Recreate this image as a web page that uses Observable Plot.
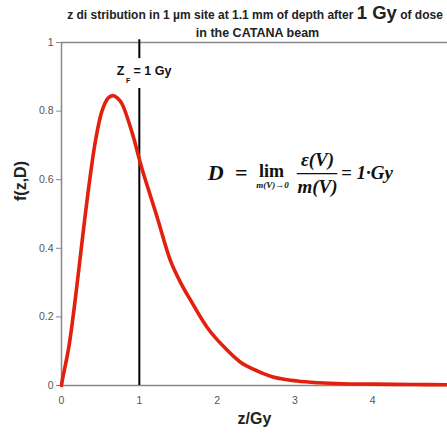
<!DOCTYPE html>
<html>
<head>
<meta charset="utf-8">
<script src="https://cdn.jsdelivr.net/npm/d3@7"></script>
<script src="https://cdn.jsdelivr.net/npm/@observablehq/plot@0.6"></script>
<style>
  html, body { margin: 0; padding: 0; background: #fff; }
  #chart svg { display: block; }
</style>
</head>
<body>
<div id="chart"></div>
<script>
// z values (Gy) and f(z,D)
const z = [0, 0.01, 0.094, 0.18, 0.266, 0.35, 0.437, 0.52, 0.6, 0.66, 0.72, 0.78, 0.91, 1.0, 1.037, 1.23, 1.40, 1.53, 1.66, 1.87, 2.09, 2.30, 2.52, 2.73, 3.03, 3.3, 3.6, 4.0, 4.5, 4.96];
const f = [0, 0.015, 0.112, 0.257, 0.423, 0.578, 0.714, 0.80, 0.838, 0.845, 0.838, 0.82, 0.735, 0.66, 0.63, 0.49, 0.364, 0.30, 0.248, 0.17, 0.112, 0.068, 0.042, 0.024, 0.013, 0.008, 0.005, 0.004, 0.003, 0.002];
const zF = [1];
const xTicks = [0, 1, 2, 3, 4];
const xTickLabels = ["0", "1", "2", "3", "4"];
const yTicks = [0, 0.2, 0.4, 0.6, 0.8, 1];
const yTickLabels = ["0", "0.2", "0.4", "0.6", "0.8", "1"];
const titleLine1a = "z di stribution in 1 µm site at 1.1 mm of depth after ";
const titleLine1b = "1 Gy";
const titleLine1c = " of dose";
const titleLine2 = "in the CATANA beam";
const xLabel = "z/Gy";
const yLabel = "f(z,D)";

const data = z.map((v, i) => ({z: v, f: f[i]}));
const serif = "'Liberation Serif', 'DejaVu Serif', serif";
const sans = "Arial, 'Liberation Sans', Helvetica, sans-serif";
const one = [0];

const plot = Plot.plot({
  width: 447,
  height: 435,
  marginLeft: 61,
  marginRight: 0,
  marginTop: 42,
  marginBottom: 50,
  style: {fontFamily: sans, fontSize: "10.5px", color: "#555", background: "#fff"},
  x: {domain: [0, 4.96]},
  y: {domain: [0, 1]},
  marks: [
    Plot.axisX({ticks: xTicks, tickSize: 0, tickPadding: 11, label: null, fill: "#555",
      tickFormat: d => xTickLabels[xTicks.indexOf(d)]}),
    Plot.axisY({ticks: yTicks, tickSize: 5, tickPadding: 3, stroke: "#888", fill: "#555",
      tickFormat: d => yTickLabels[yTicks.indexOf(d)], label: null}),
    Plot.ruleY([0, 1], {stroke: "#888", strokeWidth: 1.5}),
    Plot.ruleX([0], {stroke: "#888", strokeWidth: 1.5}),
    // Z_F vertical marker, broken around its label
    Plot.ruleX(zF, {y1: 1.008, y2: 0.953, stroke: "#000", strokeWidth: 2, clip: false}),
    Plot.ruleX(zF, {y1: 0.866, y2: 0, stroke: "#000", strokeWidth: 2}),
    Plot.line(data, {x: "z", y: "f", stroke: "#e3200d", strokeWidth: 3.6, curve: "catmull-rom"}),
    // Z_F label
    Plot.text(one, {x: 0.758, y: 0.918, text: ["Z"], fontWeight: "bold", fontSize: 12.5, fill: "#111", fontFamily: sans}),
    Plot.text(one, {x: 0.855, y: 0.889, text: ["F"], fontWeight: "bold", fontSize: 7, fill: "#111", fontFamily: sans}),
    Plot.text(one, {x: 0.925, y: 0.917, text: ["= 1 Gy"], textAnchor: "start", fontWeight: "bold", fontSize: 12.5, fill: "#111", fontFamily: sans}),
    // formula
    Plot.text(one, {x: 1.98, y: 0.621, text: ["D"], fontWeight: "bold", fontStyle: "italic", fontSize: 22, fill: "#111", fontFamily: serif}),
    Plot.text(one, {x: 2.31, y: 0.621, text: ["="], fontWeight: "bold", fontSize: 22, fill: "#111", fontFamily: serif}),
    Plot.text(one, {x: 2.70, y: 0.624, text: ["lim"], fontWeight: "bold", fontSize: 18, fill: "#111", fontFamily: serif}),
    Plot.text(one, {x: 2.71, y: 0.583, text: ["m(V)→0"], fontWeight: "bold", fontStyle: "italic", fontSize: 9, fill: "#111", fontFamily: serif}),
    Plot.text(one, {x: 3.29, y: 0.658, text: ["ε(V)"], fontWeight: "bold", fontStyle: "italic", fontSize: 19, fill: "#111", fontFamily: serif}),
    Plot.ruleY([0.618], {x1: 3.03, x2: 3.55, stroke: "#111", strokeWidth: 1.3}),
    Plot.text(one, {x: 3.29, y: 0.578, text: ["m(V)"], fontWeight: "bold", fontStyle: "italic", fontSize: 19, fill: "#111", fontFamily: serif}),
    Plot.text(one, {x: 3.59, y: 0.621, text: ["= 1·Gy"], textAnchor: "start", fontWeight: "bold", fontStyle: "italic", fontSize: 19, fill: "#111", fontFamily: serif}),
    // axis labels
    Plot.text(one, {frameAnchor: "bottom", dy: 38, text: [xLabel], fontWeight: "bold", fontSize: 16, fill: "#222", fontFamily: sans}),
    Plot.text(one, {frameAnchor: "left", dx: -41, dy: -13, rotate: -90, text: [yLabel], fontWeight: "bold", fontSize: 16, fill: "#222", fontFamily: sans}),
    // title line 2
    Plot.text(one, {frameAnchor: "top", dx: 3, dy: -14, text: [titleLine2], fontWeight: "bold", fontSize: 12.5, fill: "#222", fontFamily: sans})
  ]
});

// title line 1 with the larger "1 Gy"
const svg = d3.select(plot);
const t = svg.append("text")
  .attr("x", 255).attr("y", 19)
  .attr("text-anchor", "middle")
  .attr("font-family", sans).attr("font-weight", "bold")
  .attr("font-size", 12).attr("fill", "#222");
t.append("tspan").text(titleLine1a);
t.append("tspan").attr("font-size", 18.5).text(titleLine1b);
t.append("tspan").text(titleLine1c);

document.getElementById("chart").appendChild(plot);
</script>
</body>
</html>
